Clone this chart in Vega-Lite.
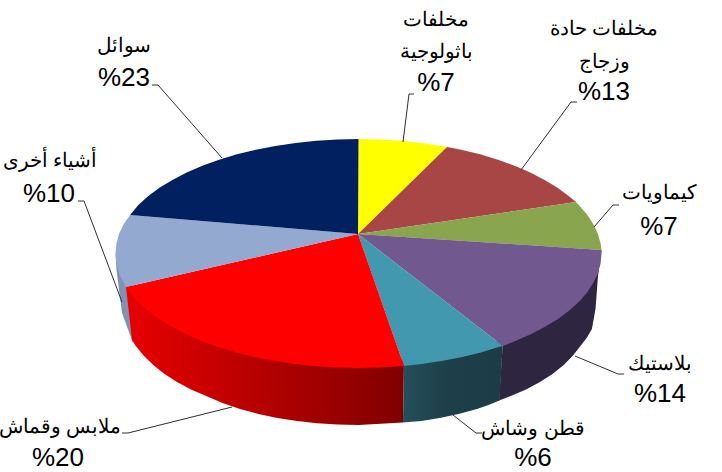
{"$schema":"https://vega.github.io/schema/vega-lite/v6.json","width":722,"height":472,"padding":0,"autosize":{"type":"none"},"background":"white","config":{"view":{"stroke":null}},
"datasets":{
"wedges":[
{"s":"مخلفات باثولوجية","v":7,"i":0,"x":358,"y":234},{"s":"مخلفات باثولوجية","v":7,"i":1,"x":358.5,"y":139},{"s":"مخلفات باثولوجية","v":7,"i":2,"x":379.7,"y":139.4},{"s":"مخلفات باثولوجية","v":7,"i":3,"x":400.7,"y":140.7},{"s":"مخلفات باثولوجية","v":7,"i":4,"x":421.4,"y":142.9},{"s":"مخلفات باثولوجية","v":7,"i":5,"x":441.6,"y":145.9},{"s":"مخلفات باثولوجية","v":7,"i":6,"x":447,"y":147},
{"s":"مخلفات حادة وزجاج","v":13,"i":0,"x":358,"y":234},{"s":"مخلفات حادة وزجاج","v":13,"i":1,"x":447,"y":147},{"s":"مخلفات حادة وزجاج","v":13,"i":2,"x":461.2,"y":149.7},{"s":"مخلفات حادة وزجاج","v":13,"i":3,"x":480,"y":154.3},{"s":"مخلفات حادة وزجاج","v":13,"i":4,"x":497.9,"y":159.7},{"s":"مخلفات حادة وزجاج","v":13,"i":5,"x":514.7,"y":165.8},{"s":"مخلفات حادة وزجاج","v":13,"i":6,"x":530.3,"y":172.5},{"s":"مخلفات حادة وزجاج","v":13,"i":7,"x":544.6,"y":179.9},{"s":"مخلفات حادة وزجاج","v":13,"i":8,"x":557.6,"y":187.8},{"s":"مخلفات حادة وزجاج","v":13,"i":9,"x":569,"y":196.3},{"s":"مخلفات حادة وزجاج","v":13,"i":10,"x":576,"y":202},
{"s":"كيماويات","v":7,"i":0,"x":358,"y":234},{"s":"كيماويات","v":7,"i":1,"x":576,"y":202},{"s":"كيماويات","v":7,"i":2,"x":578.7,"y":205.1},{"s":"كيماويات","v":7,"i":3,"x":586.9,"y":214.3},{"s":"كيماويات","v":7,"i":4,"x":593.2,"y":223.9},{"s":"كيماويات","v":7,"i":5,"x":597.8,"y":233.6},{"s":"كيماويات","v":7,"i":6,"x":600.6,"y":243.5},{"s":"كيماويات","v":7,"i":7,"x":601.5,"y":250},
{"s":"بلاستيك","v":14,"i":0,"x":358,"y":234},{"s":"بلاستيك","v":14,"i":1,"x":601.5,"y":250},{"s":"بلاستيك","v":14,"i":2,"x":601.5,"y":253.5},{"s":"بلاستيك","v":14,"i":3,"x":600.6,"y":263.5},{"s":"بلاستيك","v":14,"i":4,"x":597.8,"y":273.4},{"s":"بلاستيك","v":14,"i":5,"x":593.2,"y":283.1},{"s":"بلاستيك","v":14,"i":6,"x":586.9,"y":292.7},{"s":"بلاستيك","v":14,"i":7,"x":578.7,"y":301.9},{"s":"بلاستيك","v":14,"i":8,"x":569,"y":310.8},{"s":"بلاستيك","v":14,"i":9,"x":557.6,"y":319.2},{"s":"بلاستيك","v":14,"i":10,"x":544.6,"y":327.1},{"s":"بلاستيك","v":14,"i":11,"x":530.3,"y":334.5},{"s":"بلاستيك","v":14,"i":12,"x":514.7,"y":341.2},{"s":"بلاستيك","v":14,"i":13,"x":503,"y":346},
{"s":"قطن وشاش","v":6,"i":0,"x":358,"y":234},{"s":"قطن وشاش","v":6,"i":1,"x":503,"y":346},{"s":"قطن وشاش","v":6,"i":2,"x":497.9,"y":347.3},{"s":"قطن وشاش","v":6,"i":3,"x":480,"y":352.7},{"s":"قطن وشاش","v":6,"i":4,"x":461.2,"y":357.3},{"s":"قطن وشاش","v":6,"i":5,"x":441.6,"y":361.1},{"s":"قطن وشاش","v":6,"i":6,"x":421.4,"y":364.1},{"s":"قطن وشاش","v":6,"i":7,"x":404,"y":366},
{"s":"ملابس وقماش","v":20,"i":0,"x":358,"y":234},{"s":"ملابس وقماش","v":20,"i":1,"x":404,"y":366},{"s":"ملابس وقماش","v":20,"i":2,"x":379.7,"y":367.6},{"s":"ملابس وقماش","v":20,"i":3,"x":358.5,"y":368},{"s":"ملابس وقماش","v":20,"i":4,"x":337.3,"y":367.6},{"s":"ملابس وقماش","v":20,"i":5,"x":316.3,"y":366.3},{"s":"ملابس وقماش","v":20,"i":6,"x":295.6,"y":364.1},{"s":"ملابس وقماش","v":20,"i":7,"x":275.4,"y":361.1},{"s":"ملابس وقماش","v":20,"i":8,"x":255.8,"y":357.3},{"s":"ملابس وقماش","v":20,"i":9,"x":237,"y":352.7},{"s":"ملابس وقماش","v":20,"i":10,"x":219.1,"y":347.3},{"s":"ملابس وقماش","v":20,"i":11,"x":202.3,"y":341.2},{"s":"ملابس وقماش","v":20,"i":12,"x":186.7,"y":334.5},{"s":"ملابس وقماش","v":20,"i":13,"x":172.4,"y":327.1},{"s":"ملابس وقماش","v":20,"i":14,"x":159.4,"y":319.2},{"s":"ملابس وقماش","v":20,"i":15,"x":148,"y":310.8},{"s":"ملابس وقماش","v":20,"i":16,"x":138.3,"y":301.9},{"s":"ملابس وقماش","v":20,"i":17,"x":130.1,"y":292.7},{"s":"ملابس وقماش","v":20,"i":18,"x":126,"y":287},
{"s":"أشياء أخرى","v":10,"i":0,"x":358,"y":234},{"s":"أشياء أخرى","v":10,"i":1,"x":126,"y":287},{"s":"أشياء أخرى","v":10,"i":2,"x":123.8,"y":283.1},{"s":"أشياء أخرى","v":10,"i":3,"x":119.2,"y":273.4},{"s":"أشياء أخرى","v":10,"i":4,"x":116.4,"y":263.5},{"s":"أشياء أخرى","v":10,"i":5,"x":115.5,"y":253.5},{"s":"أشياء أخرى","v":10,"i":6,"x":116.4,"y":243.5},{"s":"أشياء أخرى","v":10,"i":7,"x":119.2,"y":233.6},{"s":"أشياء أخرى","v":10,"i":8,"x":123.8,"y":223.9},{"s":"أشياء أخرى","v":10,"i":9,"x":130.1,"y":215},
{"s":"سوائل","v":23,"i":0,"x":358,"y":234},{"s":"سوائل","v":23,"i":1,"x":130.1,"y":215},{"s":"سوائل","v":23,"i":2,"x":138.3,"y":205.1},{"s":"سوائل","v":23,"i":3,"x":148,"y":196.3},{"s":"سوائل","v":23,"i":4,"x":159.4,"y":187.8},{"s":"سوائل","v":23,"i":5,"x":172.4,"y":179.9},{"s":"سوائل","v":23,"i":6,"x":186.7,"y":172.5},{"s":"سوائل","v":23,"i":7,"x":202.3,"y":165.8},{"s":"سوائل","v":23,"i":8,"x":219.1,"y":159.7},{"s":"سوائل","v":23,"i":9,"x":237,"y":154.3},{"s":"سوائل","v":23,"i":10,"x":255.8,"y":149.7},{"s":"سوائل","v":23,"i":11,"x":275.4,"y":145.9},{"s":"سوائل","v":23,"i":12,"x":295.6,"y":142.9},{"s":"سوائل","v":23,"i":13,"x":316.3,"y":140.7},{"s":"سوائل","v":23,"i":14,"x":337.3,"y":139.4},{"s":"سوائل","v":23,"i":15,"x":358.5,"y":139}
],
"walls":[
{"s":"أشياء أخرى","i":0,"x":115.5,"y":253},{"s":"أشياء أخرى","i":1,"x":116.5,"y":270},{"s":"أشياء أخرى","i":2,"x":122,"y":313},{"s":"أشياء أخرى","i":3,"x":133,"y":343},{"s":"أشياء أخرى","i":4,"x":140,"y":300},
{"s":"بلاستيك","i":0,"x":601.5,"y":250},{"s":"بلاستيك","i":1,"x":598,"y":276},{"s":"بلاستيك","i":2,"x":595.5,"y":309},{"s":"بلاستيك","i":3,"x":591.9,"y":329.1},{"s":"بلاستيك","i":4,"x":587,"y":337.5},{"s":"بلاستيك","i":5,"x":581.2,"y":345},{"s":"بلاستيك","i":6,"x":573,"y":355.5},{"s":"بلاستيك","i":7,"x":563.7,"y":365},{"s":"بلاستيك","i":8,"x":552.5,"y":374},{"s":"بلاستيك","i":9,"x":540,"y":382},{"s":"بلاستيك","i":10,"x":526,"y":389.5},{"s":"بلاستيك","i":11,"x":510.8,"y":396},{"s":"بلاستيك","i":12,"x":499,"y":400.5},{"s":"بلاستيك","i":13,"x":503,"y":340},
{"s":"قطن وشاش","i":0,"x":503,"y":340},{"s":"قطن وشاش","i":1,"x":499.5,"y":400.5},{"s":"قطن وشاش","i":2,"x":488.5,"y":405},{"s":"قطن وشاش","i":3,"x":477,"y":409},{"s":"قطن وشاش","i":4,"x":458.5,"y":414},{"s":"قطن وشاش","i":5,"x":439.6,"y":418},{"s":"قطن وشاش","i":6,"x":421.5,"y":421},{"s":"قطن وشاش","i":7,"x":403,"y":422.5},{"s":"قطن وشاش","i":8,"x":404,"y":360},
{"s":"ملابس وقماش","i":0,"x":404,"y":360},{"s":"ملابس وقماش","i":1,"x":403,"y":422.5},{"s":"ملابس وقماش","i":2,"x":358.5,"y":425},{"s":"ملابس وقماش","i":3,"x":337.6,"y":424.4},{"s":"ملابس وقماش","i":4,"x":317.3,"y":423.2},{"s":"ملابس وقماش","i":5,"x":297,"y":421},{"s":"ملابس وقماش","i":6,"x":277.4,"y":418},{"s":"ملابس وقماش","i":7,"x":258.4,"y":414},{"s":"ملابس وقماش","i":8,"x":240,"y":409},{"s":"ملابس وقماش","i":9,"x":222.6,"y":403},{"s":"ملابس وقماش","i":10,"x":206.2,"y":396},{"s":"ملابس وقماش","i":11,"x":191,"y":389.5},{"s":"ملابس وقماش","i":12,"x":177,"y":382},{"s":"ملابس وقماش","i":13,"x":164.5,"y":374},{"s":"ملابس وقماش","i":14,"x":153.3,"y":365},{"s":"ملابس وقماش","i":15,"x":144,"y":356},{"s":"ملابس وقماش","i":16,"x":135.8,"y":346},{"s":"ملابس وقماش","i":17,"x":132,"y":340},{"s":"ملابس وقماش","i":18,"x":126,"y":287}
],
"leaders":[
{"s":"سوائل","i":0,"x":152,"y":85},{"s":"سوائل","i":1,"x":158,"y":85},{"s":"سوائل","i":2,"x":222,"y":158},
{"s":"أشياء أخرى","i":0,"x":78,"y":201},{"s":"أشياء أخرى","i":1,"x":84,"y":201},{"s":"أشياء أخرى","i":2,"x":122,"y":302},
{"s":"ملابس وقماش","i":0,"x":122,"y":433},{"s":"ملابس وقماش","i":1,"x":128,"y":433},{"s":"ملابس وقماش","i":2,"x":232,"y":407},
{"s":"قطن وشاش","i":0,"x":482,"y":433},{"s":"قطن وشاش","i":1,"x":476,"y":433},{"s":"قطن وشاش","i":2,"x":453,"y":415},
{"s":"بلاستيك","i":0,"x":575,"y":356},{"s":"بلاستيك","i":1,"x":618,"y":374},{"s":"بلاستيك","i":2,"x":624,"y":374},
{"s":"كيماويات","i":0,"x":594,"y":227},{"s":"كيماويات","i":1,"x":613,"y":205},{"s":"كيماويات","i":2,"x":619,"y":205},
{"s":"مخلفات حادة وزجاج","i":0,"x":521,"y":170},{"s":"مخلفات حادة وزجاج","i":1,"x":571,"y":102},{"s":"مخلفات حادة وزجاج","i":2,"x":577,"y":102},
{"s":"مخلفات باثولوجية","i":0,"x":403,"y":142},{"s":"مخلفات باثولوجية","i":1,"x":409,"y":94},{"s":"مخلفات باثولوجية","i":2,"x":414,"y":94}
],
"names":[
{"t":"مخلفات","x":436,"y":26},{"t":"باثولوجية","x":436,"y":58},
{"t":"مخلفات حادة","x":604,"y":35},{"t":"وزجاج","x":604,"y":68},
{"t":"كيماويات","x":659,"y":199},{"t":"سوائل","x":124,"y":52},
{"t":"أشياء أخرى","x":50,"y":167},{"t":"ملابس وقماش","x":60,"y":433},
{"t":"قطن وشاش","x":533,"y":435},{"t":"بلاستيك","x":660,"y":370}
],
"pcts":[
{"t":"%7","x":436,"y":91},{"t":"%13","x":604,"y":100},{"t":"%7","x":659,"y":235},{"t":"%23","x":124,"y":86},{"t":"%10","x":49,"y":202},{"t":"%20","x":58,"y":466},{"t":"%6","x":533,"y":466},{"t":"%14","x":660,"y":402}
]},
"encoding":{"x":{"field":"x","type":"quantitative","axis":null,"scale":{"domain":[0,722],"nice":false,"zero":false}},"y":{"field":"y","type":"quantitative","axis":null,"scale":{"domain":[472,0],"nice":false,"zero":false}},"order":{"field":"i","type":"quantitative"}},
"layer":[
{"data":{"name":"walls"},"transform":[{"filter":"datum.s==='أشياء أخرى'"}],"mark":{"type":"line","filled":true,"fill":"#7f92b5","stroke":null}},
{"data":{"name":"walls"},"transform":[{"filter":"datum.s==='بلاستيك'"}],"mark":{"type":"line","filled":true,"fill":"#2e2540","stroke":null}},
{"data":{"name":"walls"},"transform":[{"filter":"datum.s==='قطن وشاش'"}],"mark":{"type":"line","filled":true,"stroke":null,"fill":{"gradient":"linear","x1":0,"y1":0,"x2":1,"y2":0,"stops":[{"offset":0,"color":"#24505b"},{"offset":0.45,"color":"#1d3f49"},{"offset":1,"color":"#1c3c47"}]}}},
{"data":{"name":"walls"},"transform":[{"filter":"datum.s==='ملابس وقماش'"}],"mark":{"type":"line","filled":true,"stroke":null,"fill":{"gradient":"linear","x1":0,"y1":0,"x2":1,"y2":0,"stops":[{"offset":0,"color":"#e80000"},{"offset":1,"color":"#800000"}]}}},
{"data":{"name":"wedges"},"mark":{"type":"line","filled":true,"strokeWidth":0},"encoding":{"color":{"field":"s","type":"nominal","legend":null,"scale":{"domain":["مخلفات باثولوجية","مخلفات حادة وزجاج","كيماويات","بلاستيك","قطن وشاش","ملابس وقماش","أشياء أخرى","سوائل"],"range":["#ffff00","#a84645","#89a54e","#71588f","#4198af","#ff0000","#93a9cf","#002060"]}}}},
{"data":{"name":"leaders"},"mark":{"type":"line","color":"#303030","strokeWidth":1},"encoding":{"detail":{"field":"s","type":"nominal"}}},
{"data":{"name":"names"},"mark":{"type":"text","font":"Liberation Sans","fontSize":19.5,"align":"center","baseline":"alphabetic","color":"black"},"encoding":{"text":{"field":"t","type":"nominal"},"order":null}},
{"data":{"name":"pcts"},"mark":{"type":"text","font":"Liberation Sans","fontSize":26,"align":"center","baseline":"alphabetic","color":"black"},"encoding":{"text":{"field":"t","type":"nominal"},"order":null}}
]}
